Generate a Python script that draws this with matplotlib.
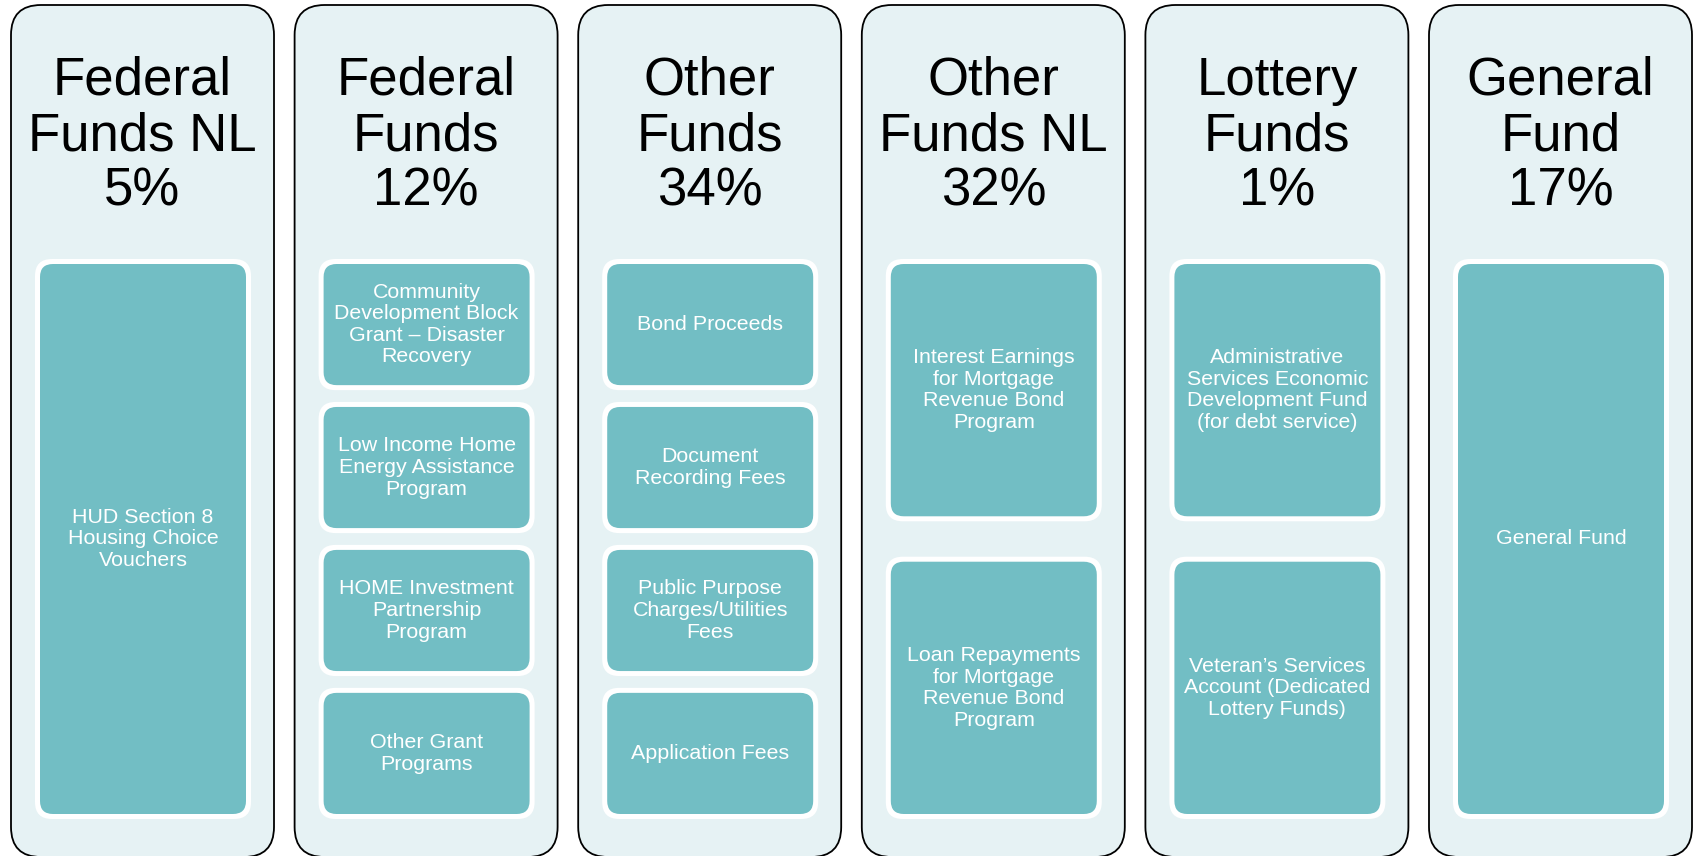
import matplotlib.pyplot as plt
from matplotlib.patches import FancyBboxPatch

# fund groups, share of budget and the revenue sources inside each
funds = ["Federal\nFunds NL", "Federal\nFunds", "Other\nFunds", "Other\nFunds NL",
         "Lottery\nFunds", "General\nFund"]
shares = [5, 12, 34, 32, 1, 17]
sources = [
    ["HUD Section 8\nHousing Choice\nVouchers"],
    ["Community\nDevelopment Block\nGrant – Disaster\nRecovery",
     "Low Income Home\nEnergy Assistance\nProgram",
     "HOME Investment\nPartnership\nProgram",
     "Other Grant\nPrograms"],
    ["Bond Proceeds",
     "Document\nRecording Fees",
     "Public Purpose\nCharges/Utilities\nFees",
     "Application Fees"],
    ["Interest Earnings\nfor Mortgage\nRevenue Bond\nProgram",
     "Loan Repayments\nfor Mortgage\nRevenue Bond\nProgram"],
    ["Administrative\nServices Economic\nDevelopment Fund\n(for debt service)",
     "Veteran’s Services\nAccount (Dedicated\nLottery Funds)"],
    ["General Fund"],
]

outer_fill = "#E6F2F4"
teal = "#72BEC4"
font = "Liberation Sans"

W, H = 1698, 856
fig = plt.figure(figsize=(W / 100, H / 100), dpi=100)
ax = fig.add_axes([0, 0, 1, 1])
ax.set_xlim(0, W)
ax.set_ylim(H, 0)
ax.axis("off")

col_w, pitch, x0 = 263, 283.6, 11
top, bottom = 5, 857
in_left, in_w = 29, 206
in_top, in_bot = 264, 814
gap_ratio = 0.18

for i, (name, pct, items) in enumerate(zip(funds, shares, sources)):
    left = x0 + i * pitch
    ax.add_patch(FancyBboxPatch((left, top), col_w, bottom - top,
                                boxstyle="round,pad=0,rounding_size=30",
                                facecolor=outer_fill, edgecolor="black", lw=1.3))
    ax.text(left + col_w / 2, 136, f"{name}\n{pct}%", ha="center", va="center",
            fontsize=38, family=font, color="black", linespacing=1.13)

    n = len(items)
    h = (in_bot - in_top) / (n + gap_ratio * (n - 1))
    gap = h * gap_ratio
    for j, label in enumerate(items):
        y = in_top + j * (h + gap)
        bx = left + in_left
        ax.add_patch(FancyBboxPatch((bx - 5, y - 5), in_w + 10, h + 10,
                                    boxstyle="round,pad=0,rounding_size=17",
                                    facecolor="white", edgecolor="none"))
        ax.add_patch(FancyBboxPatch((bx, y), in_w, h,
                                    boxstyle="round,pad=0,rounding_size=13",
                                    facecolor=teal, edgecolor="none"))
        ax.text(bx + in_w / 2, y + h / 2, label, ha="center", va="center",
                fontsize=15.4, family=font, color="white", linespacing=1.17)

fig.savefig("out.png", dpi=100)
